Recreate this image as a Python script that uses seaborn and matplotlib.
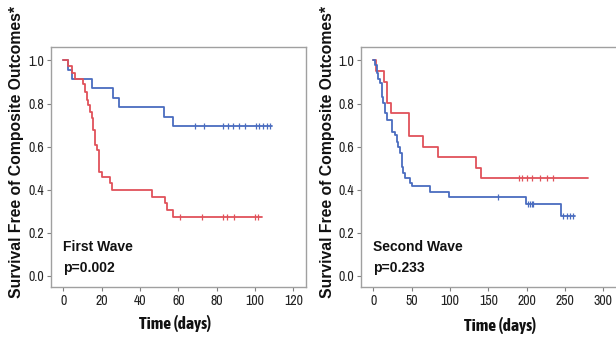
import numpy as np
import pandas as pd
import matplotlib
matplotlib.use("Agg")
import matplotlib.pyplot as plt
from matplotlib import font_manager
import seaborn as sns

# ---------------- data ----------------
# First wave
w1_blue_t = [0, 2.6, 4.4, 15.1, 26.1, 29.2, 52.5, 57.4]
w1_blue_s = [1.0, 0.956, 0.913, 0.870, 0.826, 0.783, 0.739, 0.696]
w1_blue_end = 108.7
w1_blue_cens = [68.7, 73.4, 83.1, 86.1, 88.4, 91.6, 94.8, 100.4, 102.2, 104.3, 106.1, 107.8]

w1_red_t = [0, 2.6, 4.4, 6.1, 10.4, 11.3, 12.2, 13.1, 13.9, 14.8, 15.7, 16.5, 17.4,
            18.6, 20.0, 24.4, 25.2, 46.1, 53.0, 54.0, 57.4]
w1_red_s = [1.0, 0.974, 0.943, 0.913, 0.889, 0.855, 0.816, 0.793, 0.762, 0.731, 0.677,
            0.607, 0.584, 0.483, 0.460, 0.429, 0.398, 0.367, 0.336, 0.305, 0.274]
w1_red_end = 103.5
w1_red_cens = [60.9, 72.2, 83.5, 85.2, 89.0, 100.0, 101.7]

# Second wave
w2_blue_t = [0, 2.2, 4.4, 6.5, 8.7, 10.9, 12.0, 13.0, 15.3, 17.4, 24.0, 28.3, 30.5,
             32.6, 34.8, 37.0, 38.0, 39.1, 41.3, 47.9, 50.1, 74.0, 99.1, 198.8, 244.4]
w2_blue_s = [1.0, 0.979, 0.940, 0.912, 0.894, 0.863, 0.832, 0.801, 0.755, 0.724, 0.669,
             0.654, 0.623, 0.600, 0.569, 0.538, 0.507, 0.476, 0.453, 0.429, 0.415,
             0.390, 0.364, 0.333, 0.279]
w2_blue_end = 263.1
w2_blue_cens = [163.0, 202.2, 204.4, 206.6, 208.7, 247.8, 252.2, 256.5, 260.9]

w2_red_t = [0, 3.1, 14.0, 17.4, 23.1, 46.6, 65.2, 84.0, 133.5, 140.0]
w2_red_s = [1.0, 0.953, 0.902, 0.804, 0.755, 0.651, 0.600, 0.550, 0.499, 0.453]
w2_red_end = 280.4
w2_red_cens = [190.4, 193.6, 200.0, 206.5, 217.4, 226.1, 234.8]

x_ticks_1 = [0, 20, 40, 60, 80, 100, 120]
x_ticks_2 = [0, 50, 100, 150, 200, 250, 300]
y_ticks = [0.0, 0.2, 0.4, 0.6, 0.8, 1.0]
panel_titles = ["First Wave", "Second Wave"]
p_values = ["p=0.002", "p=0.233"]
y_label = "Survival Free of Composite Outcomes*"
x_label = "Time (days)"

RED = "#e0525a"
BLUE = "#4a6cbf"

# ---------------- style ----------------
sns.set_style("white")
fl = font_manager.fontManager.ttflist
avail = sorted({f.name for f in fl})


def _w(x):
    if isinstance(x, (int, float)):
        return x
    return {"bold": 700, "heavy": 800, "black": 900, "semibold": 600, "demibold": 600}.get(str(x).lower(), 400)


narrow_cands = [n for n in avail if ("Narrow" in n or "Condensed" in n)]
narrow_bold = [n for n in narrow_cands if any(f.name == n and _w(f.weight) >= 600 for f in fl)]
narrow_reg = [n for n in narrow_cands if any(f.name == n and 380 <= _w(f.weight) <= 500 for f in fl)]
boldfam = "Liberation Sans" if "Liberation Sans" in avail else "DejaVu Sans"
narrow = narrow_reg[0] if narrow_reg else (narrow_cands[0] if narrow_cands else boldfam)
narrowb = narrow_bold[0] if narrow_bold else None
plt.rcParams["font.family"] = [narrow, "DejaVu Sans"]

fig = plt.figure(figsize=(6.16, 3.38), dpi=100)
W, H = 616, 338


def add_ax(left, top, right, bottom):
    return fig.add_axes([left / W, (H - bottom) / H, (right - left) / W, (bottom - top) / H])


ax1 = add_ax(50.7, 47, 305.7, 287)
ax2 = add_ax(360.7, 47, 619, 287)


def step_df(t, s, end):
    return pd.DataFrame({"t": list(t) + [end], "s": list(s) + [s[-1]]})


def cens_df(t, s, ct):
    t = np.asarray(t)
    s = np.asarray(s)
    idx = np.searchsorted(t, ct, side="right") - 1
    return pd.DataFrame({"t": ct, "s": s[idx]})


def draw(ax, curves):
    for t, s, end, ct, col in curves:
        sns.lineplot(data=step_df(t, s, end), x="t", y="s", ax=ax, color=col,
                     drawstyle="steps-post", linewidth=1.3, estimator=None, sort=False)
        sns.scatterplot(data=cens_df(t, s, ct), x="t", y="s", ax=ax, color=col,
                        marker="|", s=22, linewidth=0.9, zorder=3)


draw(ax1, [(w1_blue_t, w1_blue_s, w1_blue_end, w1_blue_cens, BLUE),
           (w1_red_t, w1_red_s, w1_red_end, w1_red_cens, RED)])
draw(ax2, [(w2_red_t, w2_red_s, w2_red_end, w2_red_cens, RED),
           (w2_blue_t, w2_blue_s, w2_blue_end, w2_blue_cens, BLUE)])

ax1.set_xlim(-6.6, 126.5)
ax2.set_xlim(-16.4, (619 - 373.3) / 0.7667)
for ax, xt, title, pv in [(ax1, x_ticks_1, panel_titles[0], p_values[0]),
                          (ax2, x_ticks_2, panel_titles[1], p_values[1])]:
    ax.set_ylim(-0.0525, 1.0627)
    ax.set_xticks(xt)
    ax.set_yticks(y_ticks)
    ax.set_yticklabels([f"{v:.1f}" for v in y_ticks])
    ax.set_xlabel("")
    ax.set_ylabel("")
    for sp in ax.spines.values():
        sp.set_color("#a0a0a0")
        sp.set_linewidth(1.0)
    ax.tick_params(axis="both", which="both", direction="out", length=3, width=0.8,
                   color="#808080", labelsize=10, labelcolor="#222222", pad=2,
                   bottom=True, left=True)
    for lab in ax.get_xticklabels() + ax.get_yticklabels():
        lab.set_fontfamily([narrow, "DejaVu Sans"])
    ax.text(0.047, 0.165, title, transform=ax.transAxes, fontsize=10, fontweight="bold",
            family=[boldfam, "DejaVu Sans"], va="center", ha="left", color="#111111")
    ax.text(0.047, 0.078, pv, transform=ax.transAxes, fontsize=10, fontweight="bold",
            family=[boldfam, "DejaVu Sans"], va="center", ha="left", color="#111111")

ax2.spines["right"].set_visible(False)

# axis labels
if narrowb:
    xl_fam, xl_size = [narrowb, "DejaVu Sans"], 12.5
else:
    xl_fam, xl_size = [boldfam, "DejaVu Sans"], 10.5
for xc, yc in [(175, 323), (500, 325)]:
    fig.text(xc / W, 1 - yc / H, x_label, ha="center", va="center", fontsize=xl_size,
             fontweight="bold", family=xl_fam, color="#111111")
for xc in (17, 327):
    fig.text(xc / W, 1 - 152 / H, y_label, ha="center", va="center", rotation=90,
             fontsize=11.3, fontweight="bold", family=[boldfam, "DejaVu Sans"], color="#111111")

fig.savefig("out.png", dpi=100)
